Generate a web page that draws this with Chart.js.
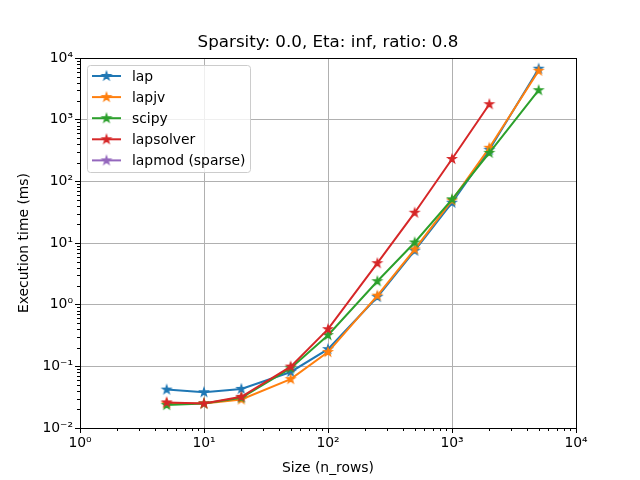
<!DOCTYPE html>
<html>
<head>
<meta charset="utf-8">
<script src="https://cdn.jsdelivr.net/npm/chart.js@4/dist/chart.umd.min.js"></script>
<style>
  html, body { margin: 0; padding: 0; background: #fff; }
</style>
</head>
<body>
<canvas id="timingChart" width="640" height="480"></canvas>
<script>
// problem sizes (x axis)
const sizes = [5, 10, 20, 50, 100, 250, 500, 1000, 2000, 5000];

// execution times in ms, one array per solver
const lap = [0.042, 0.038, 0.043, 0.081, 0.19, 1.33, 7.5, 45, 325, 6700];
const lapjv = [0.025, 0.025, 0.029, 0.062, 0.17, 1.4, 7.9, 49, 350, 6200];
const scipy = [0.0235, 0.025, 0.031, 0.093, 0.32, 2.4, 10.2, 51, 290, 3000];
const lapsolver = [0.026, 0.025, 0.032, 0.099, 0.40, 4.7, 31, 230, 1780];
const lapmod = [];

const xTickLabels = ["10⁰", "10¹", "10²", "10³", "10⁴"];
const yTickLabels = ["10⁻²", "10⁻¹", "10⁰", "10¹", "10²", "10³", "10⁴"];
const chartTitle = "Sparsity: 0.0, Eta: inf, ratio: 0.8";

const FONT = "'DejaVu Sans', sans-serif";

function makeStar(color) {
    const c = document.createElement("canvas");
    c.width = 14; c.height = 14;
    const g = c.getContext("2d");
    const R = 4.4, r = R * 0.382;
    g.beginPath();
    for (let i = 0; i < 10; i++) {
        const rad = i % 2 === 0 ? R : r;
        const a = -Math.PI / 2 + i * Math.PI / 5;
        g.lineTo(7 + rad * Math.cos(a), 7 + rad * Math.sin(a));
    }
    g.closePath();
    g.fillStyle = color;
    g.fill();
    g.lineWidth = 1.2;
    g.strokeStyle = color;
    g.stroke();
    return c;
}

function series(label, values, color, order) {
    const star = makeStar(color);
    return {
        label: label,
        data: values.map((v, i) => ({ x: sizes[i], y: v })),
        borderColor: color,
        backgroundColor: color,
        borderWidth: 2,
        pointStyle: star,
        pointRadius: 5,
        pointHoverRadius: 5,
        fill: false,
        tension: 0,
        order: order,
        _star: star
    };
}

// build 1..9 x 10^e ticks for each decade
function decadeTicks(e0, e1) {
    const out = [];
    for (let e = e0; e <= e1; e++) {
        for (let m = 1; m <= 9; m++) {
            if (e === e1 && m > 1) break;
            out.push({ value: m * Math.pow(10, e), major: m === 1 });
        }
    }
    return out;
}

const NONE = "rgba(0,0,0,0)";
const gridColor = c => (c.tick && c.tick.major ? "#b0b0b0" : NONE);
const tickColor = c => (c.tick && c.tick.major ? "#000" : NONE);

// title, frame, minor ticks and legend box inside the axes
const framePlugin = {
    id: "frame",
    afterDraw(chart) {
        const ctx = chart.ctx;
        const a = chart.chartArea;
        ctx.save();

        ctx.fillStyle = "#000";
        ctx.font = "16.7px " + FONT;
        ctx.textAlign = "center";
        ctx.textBaseline = "middle";
        ctx.fillText(chartTitle, (a.left + a.right) / 2, 43);
        ctx.textAlign = "left";

        ctx.strokeStyle = "#000";
        ctx.lineWidth = 1;
        ctx.strokeRect(Math.round(a.left) + 0.5, Math.round(a.top) + 0.5,
            Math.round(a.right - a.left), Math.round(a.bottom - a.top));

        // minor ticks, shorter than the major ones
        ctx.beginPath();
        chart.scales.x.ticks.forEach(t => {
            if (t.major) return;
            const px = Math.round(chart.scales.x.getPixelForValue(t.value)) + 0.5;
            ctx.moveTo(px, a.bottom);
            ctx.lineTo(px, a.bottom + 3);
        });
        chart.scales.y.ticks.forEach(t => {
            if (t.major) return;
            const py = Math.round(chart.scales.y.getPixelForValue(t.value)) + 0.5;
            ctx.moveTo(a.left, py);
            ctx.lineTo(a.left - 3, py);
        });
        ctx.stroke();

        // legend
        const bx = 87.5, by = 65.5, bw = 163, bh = 107;
        ctx.fillStyle = "rgba(255,255,255,0.8)";
        ctx.strokeStyle = "#cccccc";
        ctx.lineWidth = 1;
        ctx.beginPath();
        ctx.roundRect(bx, by, bw, bh, 3);
        ctx.fill();
        ctx.stroke();
        ctx.font = "13.9px " + FONT;
        ctx.textBaseline = "middle";
        chart.data.datasets.forEach((ds, i) => {
            const y = 76 + i * 21.1;
            ctx.strokeStyle = ds.borderColor;
            ctx.lineWidth = 2;
            ctx.beginPath();
            ctx.moveTo(92, y);
            ctx.lineTo(121, y);
            ctx.stroke();
            ctx.drawImage(ds._star, 106.5 - 7, y - 7);
            ctx.fillStyle = "#000";
            ctx.fillText(ds.label, 132, y + 1);
        });
        ctx.restore();
    }
};

new Chart(document.getElementById("timingChart"), {
    type: "line",
    data: {
        datasets: [
            series("lap", lap, "#1f77b4", 5),
            series("lapjv", lapjv, "#ff7f0e", 4),
            series("scipy", scipy, "#2ca02c", 3),
            series("lapsolver", lapsolver, "#d62728", 2),
            series("lapmod (sparse)", lapmod, "#9467bd", 1)
        ]
    },
    options: {
        responsive: false,
        animation: false,
        devicePixelRatio: 1,
        layout: { padding: { left: 0, right: 64, top: 58, bottom: 0 } },
        plugins: {
            legend: { display: false },
            tooltip: { enabled: false },
            title: { display: false }
        },
        scales: {
            x: {
                type: "logarithmic",
                min: 1,
                max: 10000,
                afterBuildTicks: s => { s.ticks = decadeTicks(0, 4); },
                afterFit: s => { s.height = 52; },
                grid: { color: gridColor, tickColor: tickColor, lineWidth: 1, tickLength: 5 },
                border: { display: true, color: "#000", width: 1 },
                ticks: {
                    autoSkip: false,
                    maxRotation: 0,
                    padding: 2,
                    color: "#000",
                    font: { family: FONT, size: 13.9 },
                    callback: (v, i, t) => (t[i].major ? xTickLabels[Math.round(Math.log10(v))] : "")
                },
                title: {
                    display: true,
                    text: "Size (n_rows)",
                    color: "#000",
                    font: { family: FONT, size: 13.9 },
                    padding: { top: 0, bottom: 3 }
                }
            },
            y: {
                type: "logarithmic",
                min: 0.01,
                max: 10000,
                afterBuildTicks: s => { s.ticks = decadeTicks(-2, 4); },
                afterFit: s => { s.width = 80; },
                grid: { color: gridColor, tickColor: tickColor, lineWidth: 1, tickLength: 5 },
                border: { display: true, color: "#000", width: 1 },
                ticks: {
                    autoSkip: false,
                    padding: 2,
                    color: "#000",
                    font: { family: FONT, size: 13.9 },
                    callback: (v, i, t) => (t[i].major ? yTickLabels[Math.round(Math.log10(v)) + 2] : "")
                },
                title: {
                    display: true,
                    text: "Execution time (ms)",
                    color: "#000",
                    font: { family: FONT, size: 13.9 },
                    padding: { top: 16, bottom: 0 }
                }
            }
        }
    },
    plugins: [framePlugin]
});
</script>
</body>
</html>
